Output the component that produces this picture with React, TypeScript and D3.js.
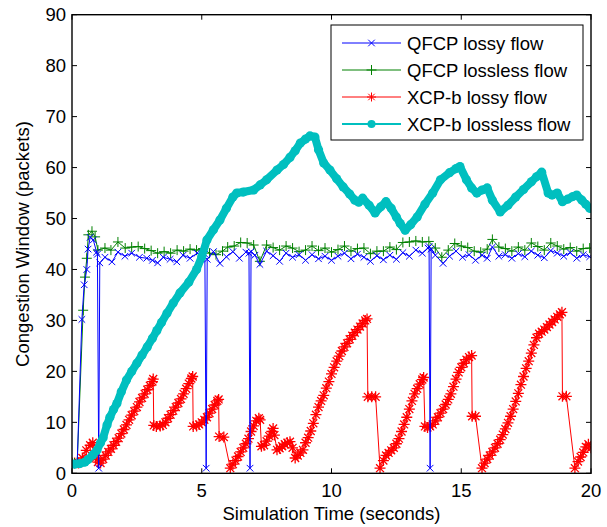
import * as d3 from 'd3'

// tick labels
const X_TICKS = [0, 5, 10, 15, 20]
const Y_TICKS = [0, 10, 20, 30, 40, 50, 60, 70, 80, 90]

// [time (s), congestion window (packets)]
const qfcpLossy: [number, number][] = [
  [0, 2], [0.1, 2], [0.2, 2], [0.38, 30.2], [0.47, 37], [0.57, 40], [0.62, 44], [0.7, 46.3],
  [0.82, 45.8], [0.95, 43.4], [0.98, 43], [1.03, 1], [1.07, 41.3], [1.27, 42.4], [1.54, 41.5], [1.77, 43.4],
  [2.04, 42.6], [2.3, 43.2], [2.6, 42.4], [2.88, 42.2], [3.1, 41.8], [3.3, 41.3], [3.52, 42.4], [3.78, 42],
  [4.04, 41.5], [4.28, 42.8], [4.55, 42.2], [4.82, 43.2], [5.05, 42.8], [5.12, 43], [5.17, 1], [5.21, 42],
  [5.45, 43.5], [5.7, 41.2], [5.95, 42.5], [6.2, 43.5], [6.45, 42.2], [6.7, 43.4], [6.82, 43.2], [6.86, 1],
  [6.9, 43.5], [7.05, 42.8], [7.24, 41], [7.5, 43.6], [7.75, 42.7], [8.0, 41.6], [8.25, 43.2], [8.5, 42.4],
  [8.75, 42.9], [9.0, 41.8], [9.25, 42.9], [9.5, 42.1], [9.75, 42.6], [10.0, 41.8], [10.25, 42.6], [10.5, 43.2],
  [10.75, 42.1], [11.0, 43], [11.25, 42.4], [11.5, 41.6], [11.75, 42.7], [12.0, 41.9], [12.25, 42.8], [12.5, 42],
  [12.75, 43.3], [13.0, 42.6], [13.25, 43.8], [13.5, 43.2], [13.72, 44.2], [13.76, 44.5], [13.8, 1], [13.84, 44],
  [14.0, 42.8], [14.3, 41.2], [14.55, 42.6], [14.8, 43.6], [15.05, 42.4], [15.3, 42.9], [15.55, 41.8], [15.8, 42.8],
  [16.0, 42.2], [16.2, 44.4], [16.45, 42.6], [16.7, 42.9], [16.95, 42.2], [17.2, 43.1], [17.45, 42.5], [17.7, 43.6],
  [17.95, 42.8], [18.2, 42.3], [18.45, 43.7], [18.7, 43.2], [18.95, 42.6], [19.2, 43.3], [19.45, 42.2], [19.7, 42.9],
  [19.95, 42.5]
]

const qfcpLossless: [number, number][] = [
  [0, 2], [0.1, 2], [0.2, 2], [0.43, 32], [0.5, 38.5], [0.57, 42.2], [0.63, 46.8], [0.77, 47.5],
  [0.89, 46.4], [1.0, 43.8], [1.27, 44.2], [1.5, 43.8], [1.77, 45.4], [2.05, 44.2], [2.3, 44.4], [2.55, 44.5],
  [2.8, 44.1], [3.05, 43.7], [3.3, 43.2], [3.55, 43.5], [3.8, 43.2], [4.05, 43.8], [4.3, 43.6], [4.55, 44],
  [4.8, 43.8], [5.05, 44.1], [5.3, 43.2], [5.55, 42.9], [5.8, 43.6], [6.0, 44.4], [6.25, 44.6], [6.5, 45.3],
  [6.75, 45.2], [7.0, 44.8], [7.24, 41.6], [7.5, 44.8], [7.75, 44.3], [8.0, 43.8], [8.25, 44.6], [8.5, 44.2],
  [8.75, 43.5], [9.0, 43.8], [9.25, 44.6], [9.5, 43.7], [9.75, 44.2], [10.0, 43.4], [10.25, 43.9], [10.5, 44.6],
  [10.75, 43.6], [11.0, 44.1], [11.25, 44.2], [11.5, 43.1], [11.75, 43.6], [12.0, 43.6], [12.25, 44.4], [12.5, 43.9],
  [12.75, 45.3], [13.0, 45.4], [13.25, 45.6], [13.5, 45.4], [13.75, 45.5], [14.0, 44.2], [14.25, 42.4], [14.5, 43.8],
  [14.75, 45.1], [15.0, 44.6], [15.25, 44.3], [15.5, 43.6], [15.75, 43.4], [16.0, 44], [16.2, 45.9], [16.45, 44.4],
  [16.7, 44.1], [16.95, 43.6], [17.2, 44.4], [17.45, 43.8], [17.7, 45.2], [17.95, 44.5], [18.2, 43.8], [18.45, 45.2],
  [18.7, 44.6], [18.95, 44], [19.2, 44.3], [19.45, 43.6], [19.7, 44.1], [19.95, 44.2]
]

const xcpLossy: [number, number][] = [
  [0.0, 2], [0.1, 2], [0.25, 2], [0.4, 3], [0.55, 4.5], [0.7, 5.5], [0.8, 6], [0.9, 3], [1.0, 2.2], [1.1, 2],
  [1.2, 2.8], [1.3, 3.5], [1.4, 4.2], [1.5, 4.8], [1.6, 5.5], [1.7, 6.2], [1.8, 6.9], [1.9, 7.8], [2.0, 8.6],
  [2.1, 9.5], [2.2, 10.5], [2.3, 11.4], [2.4, 12.2], [2.5, 13], [2.6, 14], [2.7, 14.8], [2.8, 15.6], [2.9, 16.4],
  [3.0, 17.2], [3.1, 18], [3.13, 18.5], [3.15, 9.4], [3.25, 9.2], [3.4, 9.3], [3.5, 9.5], [3.6, 10], [3.7, 10.8],
  [3.8, 11.5], [3.9, 12.3], [4.0, 13], [4.1, 13.8], [4.2, 14.6], [4.3, 15.6], [4.4, 16.6], [4.5, 17.6], [4.6, 18.6],
  [4.65, 19], [4.67, 9.2], [4.8, 9.3], [4.9, 9.6], [5.0, 10], [5.1, 10.5], [5.2, 11], [5.3, 11.8], [5.4, 12.6],
  [5.5, 13.4], [5.6, 14.2], [5.65, 14.5], [5.67, 7.2], [5.85, 7.1], [6.1, 1], [6.2, 1.8], [6.3, 2.5], [6.4, 3.3],
  [6.5, 4.2], [6.6, 5], [6.7, 5.8], [6.8, 6.8], [6.9, 8.2], [7.0, 9.3], [7.1, 10.3], [7.2, 10.8], [7.25, 10.5],
  [7.3, 5.3], [7.4, 5.5], [7.5, 6.3], [7.6, 7.3], [7.7, 8.2], [7.75, 8.8], [7.8, 7.5], [7.9, 4.6], [8.0, 4.9],
  [8.1, 5.3], [8.2, 5.7], [8.3, 6], [8.4, 6.2], [8.5, 5], [8.6, 3], [8.7, 3.5], [8.8, 4], [8.9, 4.6], [9.0, 6],
  [9.1, 7], [9.2, 8.3], [9.3, 9.8], [9.4, 11.5], [9.5, 13], [9.6, 14.2], [9.7, 15.3], [9.8, 16.7], [9.9, 18],
  [10.0, 19.5], [10.1, 20.8], [10.2, 22], [10.3, 23], [10.4, 24], [10.5, 24.8], [10.6, 25.5], [10.7, 26.3],
  [10.8, 27], [10.9, 27.6], [11.0, 28.2], [11.1, 28.8], [11.2, 29.4], [11.3, 30], [11.37, 30.3], [11.4, 15],
  [11.55, 15], [11.7, 15], [11.87, 1], [12.0, 2.5], [12.1, 3.5], [12.2, 4], [12.3, 4.5], [12.4, 5], [12.5, 5.8],
  [12.6, 6.8], [12.7, 8.2], [12.8, 9.6], [12.9, 11], [13.0, 12.6], [13.1, 14.2], [13.2, 15.6], [13.3, 16.6],
  [13.4, 17.5], [13.5, 18.4], [13.55, 18.8], [13.6, 9.2], [13.7, 9], [13.8, 9.2], [13.9, 9.6], [14.0, 10.3],
  [14.1, 11], [14.2, 11.8], [14.3, 12.6], [14.4, 13.5], [14.5, 14.5], [14.6, 15.6], [14.7, 17], [14.8, 18.5],
  [14.9, 19.8], [15.0, 20.8], [15.1, 21.6], [15.2, 22.3], [15.3, 22.8], [15.4, 23.1], [15.42, 11.2], [15.55, 11.2],
  [15.8, 1], [15.9, 2], [16.0, 2.8], [16.1, 3.5], [16.2, 4.2], [16.3, 5], [16.4, 5.8], [16.5, 6.6], [16.6, 7.6],
  [16.7, 8.7], [16.8, 9.9], [16.9, 11.2], [17.0, 12.6], [17.1, 14.1], [17.2, 15.7], [17.3, 17.4], [17.4, 19],
  [17.5, 20.6], [17.6, 22], [17.7, 23.6], [17.8, 25.2], [17.9, 26.6], [18.0, 27.4], [18.1, 27.8], [18.2, 28.2],
  [18.3, 28.7], [18.4, 29.2], [18.5, 29.7], [18.6, 30.2], [18.7, 30.7], [18.8, 31.2], [18.88, 31.6], [18.9, 15.1],
  [19.05, 15.1], [19.38, 1], [19.5, 2.3], [19.6, 3.2], [19.7, 4.1], [19.8, 5.2], [19.9, 5.7], [20.0, 5]
]

const xcpLossless: [number, number][] = [
  [0.1, 1.8], [0.3, 1.9], [0.5, 2.2], [0.62, 2.7], [0.8, 3.6], [0.96, 4.5], [1.1, 6], [1.2, 7], [1.35, 9.5],
  [1.46, 11], [1.6, 12.5], [1.73, 13.7], [1.9, 16], [2.1, 18.3], [2.3, 20], [2.5, 21.6], [2.7, 23.2], [2.9, 24.8],
  [3.1, 26.5], [3.27, 28], [3.45, 29.6], [3.66, 31.4], [3.9, 33.4], [4.16, 35.4], [4.5, 37.5], [4.8, 40], [5.0, 42.5],
  [5.2, 45.8], [5.45, 47.8], [5.7, 49.7], [5.95, 52], [6.2, 54.2], [6.35, 55], [6.6, 55.2], [7.0, 55.6], [7.25, 56.6],
  [7.5, 57.6], [7.9, 59.5], [8.15, 60.6], [8.4, 62], [8.6, 63.3], [8.8, 64.8], [9.0, 65.6], [9.17, 66.2], [9.36, 66],
  [9.5, 63.5], [9.7, 60.9], [9.94, 59.5], [10.2, 57.8], [10.45, 56.2], [10.7, 54.8], [10.9, 53.6], [11.05, 53.2],
  [11.2, 54], [11.45, 52.6], [11.68, 51.1], [11.9, 52.3], [12.1, 53.3], [12.3, 52], [12.5, 50.3], [12.65, 49],
  [12.84, 47.7], [13.05, 48.8], [13.3, 50.3], [13.6, 52.8], [13.9, 55], [14.2, 57.6], [14.55, 59], [14.8, 59.8],
  [14.95, 60.2], [15.2, 57.6], [15.4, 56], [15.6, 55], [15.8, 55.6], [16.0, 56], [16.2, 53.6], [16.5, 51.3],
  [16.8, 52.6], [17.1, 54.2], [17.4, 55.7], [17.7, 57.2], [17.9, 58.2], [18.1, 59.1], [18.35, 55], [18.5, 54.6],
  [18.7, 55], [18.9, 53.3], [19.1, 53.8], [19.3, 54.3], [19.45, 54.6], [19.65, 53.6], [19.8, 52.8], [19.95, 52]
]

const SERIES_NAMES = ['QFCP lossy flow', 'QFCP lossless flow', 'XCP-b lossy flow', 'XCP-b lossless flow']

const FONT = 'Liberation Sans, Arial, Helvetica, sans-serif'

type Marker = 'x' | 'plus' | 'star' | 'dot'

const markerPath = (m: Marker, s: number) => {
  if (m === 'x') return `M${-s},${-s}L${s},${s}M${-s},${s}L${s},${-s}`
  if (m === 'plus') return `M${-s},0H${s}M0,${-s}V${s}`
  const d = s * 0.72
  return `M${-s},0H${s}M0,${-s}V${s}M${-d},${-d}L${d},${d}M${-d},${d}L${d},${-d}`
}

export default function App() {
  const width = 607
  const height = 527
  const left = 72, right = 591, top = 14.7, bottom = 473.3

  const x = d3.scaleLinear().domain([0, 20]).range([left, right])
  const y = d3.scaleLinear().domain([0, 90]).range([bottom, top])

  const line = d3.line<[number, number]>()
    .x(d => x(d[0]))
    .y(d => y(d[1]))

  const series = [
    { name: SERIES_NAMES[2], data: xcpLossy, color: '#ff0000', marker: 'star' as Marker, size: 5.5, lw: 1, mw: 1.3 },
    { name: SERIES_NAMES[1], data: qfcpLossless, color: '#008000', marker: 'plus' as Marker, size: 5, lw: 1, mw: 1 },
    { name: SERIES_NAMES[0], data: qfcpLossy, color: '#0000ff', marker: 'x' as Marker, size: 3.3, lw: 1, mw: 1 },
  ]

  const cyan = '#00bfbf'

  const legendItems = [
    { name: SERIES_NAMES[0], color: '#0000ff', marker: 'x' as Marker, size: 3.3, lw: 1 },
    { name: SERIES_NAMES[1], color: '#008000', marker: 'plus' as Marker, size: 5, lw: 1 },
    { name: SERIES_NAMES[2], color: '#ff0000', marker: 'star' as Marker, size: 4.5, lw: 1 },
    { name: SERIES_NAMES[3], color: cyan, marker: 'dot' as Marker, size: 4, lw: 2 },
  ]

  const tickLen = 5

  return (
    <svg width={width} height={height} style={{ position: 'absolute', left: 0, top: 0, background: '#fff' }}
      fontFamily={FONT}>
      <rect x={0} y={0} width={width} height={height} fill="#fff" />

      <clipPath id="plot-clip">
        <rect x={left} y={top} width={right - left} height={bottom - top} />
      </clipPath>

      <g clipPath="url(#plot-clip)">
        {series.map(s => (
          <g key={s.name}>
            <path d={line(s.data) ?? ''} fill="none" stroke={s.color} strokeWidth={s.lw} />
            {s.data.map((d, i) => (
              <path key={i} d={markerPath(s.marker, s.size)}
                transform={`translate(${x(d[0])},${y(d[1])})`}
                fill="none" stroke={s.color} strokeWidth={s.mw} />
            ))}
          </g>
        ))}

        {/* XCP-b lossless: dense round markers look like a thick band */}
        <path d={line(xcpLossless) ?? ''} fill="none" stroke={cyan} strokeWidth={8}
          strokeLinejoin="round" strokeLinecap="round" />
        {xcpLossless.map((d, i) => (
          <circle key={i} cx={x(d[0])} cy={y(d[1])} r={4.6} fill={cyan} />
        ))}
      </g>

      {/* axes box */}
      <rect x={left} y={top} width={right - left} height={bottom - top} fill="none" stroke="#000" strokeWidth={1.4} />

      {X_TICKS.map(t => (
        <g key={`x-${t}`}>
          <line x1={x(t)} x2={x(t)} y1={bottom} y2={bottom - tickLen} stroke="#000" strokeWidth={1} />
          <line x1={x(t)} x2={x(t)} y1={top} y2={top + tickLen} stroke="#000" strokeWidth={1} />
          <text x={x(t)} y={bottom + 24} textAnchor="middle" fontSize={18.5} fill="#000">{t}</text>
        </g>
      ))}

      {Y_TICKS.map(t => (
        <g key={`y-${t}`}>
          <line x1={left} x2={left + tickLen} y1={y(t)} y2={y(t)} stroke="#000" strokeWidth={1} />
          <line x1={right} x2={right - tickLen} y1={y(t)} y2={y(t)} stroke="#000" strokeWidth={1} />
          <text x={left - 6} y={y(t)} dy="0.36em" textAnchor="end" fontSize={18.5} fill="#000">{t}</text>
        </g>
      ))}

      <text x={(left + right) / 2} y={520} textAnchor="middle" fontSize={18.5} fill="#000">
        Simulation Time (seconds)
      </text>
      <text transform={`translate(29,${(top + bottom) / 2}) rotate(-90)`} textAnchor="middle" fontSize={18.5} fill="#000">
        Congestion Window (packets)
      </text>

      {/* legend */}
      <g>
        <rect x={331} y={25} width={252} height={115} fill="#fff" stroke="#000" strokeWidth={1} />
        {legendItems.map((item, i) => {
          const cy = 43 + i * 27
          return (
            <g key={item.name}>
              <line x1={342} x2={401} y1={cy} y2={cy} stroke={item.color} strokeWidth={item.lw} />
              {item.marker === 'dot'
                ? <circle cx={371.5} cy={cy} r={item.size} fill={item.color} />
                : <path d={markerPath(item.marker, item.size)} transform={`translate(371.5,${cy})`}
                    fill="none" stroke={item.color} strokeWidth={1} />}
              <text x={407} y={cy} dy="0.36em" fontSize={18.5} fill="#000">{item.name}</text>
            </g>
          )
        })}
      </g>
    </svg>
  )
}
